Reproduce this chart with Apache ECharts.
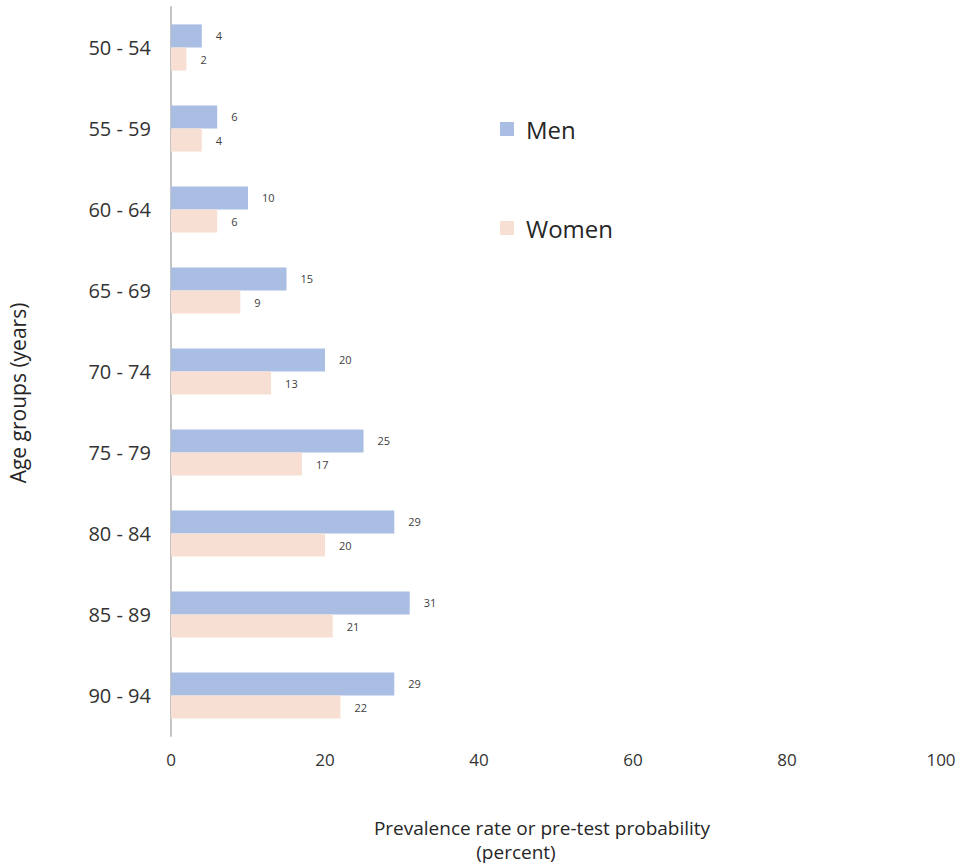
<!DOCTYPE html>
<html>
<head>
<meta charset="utf-8">
<script src="https://cdn.jsdelivr.net/npm/echarts@6/dist/echarts.min.js"></script>
<style>html,body{margin:0;padding:0;background:#fff;}#c{width:964px;height:866px;}</style>
</head>
<body>
<div id="c"></div>
<script>
var categories = ['50 - 54','55 - 59','60 - 64','65 - 69','70 - 74','75 - 79','80 - 84','85 - 89','90 - 94'];
var men = [4, 6, 10, 15, 20, 25, 29, 31, 29];
var women = [2, 4, 6, 9, 13, 17, 20, 21, 22];
var xTicks = [0, 20, 40, 60, 80, 100];
var yTitle = 'Age groups (years)';
var xTitle1 = 'Prevalence rate or pre-test probability';
var xTitle2 = '(percent)';

var font = "'Open Sans', 'Noto Sans', sans-serif";
var chart = echarts.init(document.getElementById('c'), null, {renderer: 'svg'});
var labelOpt = {
  show: true, position: 'right', distance: 14,
  color: '#404040', fontSize: 11, fontFamily: font
};
chart.setOption({
  animation: false,
  backgroundColor: '#fff',
  textStyle: {fontFamily: font},
  legend: {
    orient: 'vertical', left: 500, top: 117, padding: 0,
    itemWidth: 14, itemHeight: 14, itemGap: 75, icon: 'rect',
    textStyle: {fontSize: 24, color: '#262626', fontFamily: font, padding: [0, 0, 0, 7]},
    data: ['Men', 'Women']
  },
  title: [
    {text: xTitle1, left: 537, top: 813, textAlign: 'center',
     textStyle: {fontSize: 19, fontWeight: 'normal', color: '#262626', fontFamily: font}},
    {text: xTitle2, left: 511, top: 837, textAlign: 'center',
     textStyle: {fontSize: 19, fontWeight: 'normal', color: '#262626', fontFamily: font}}
  ],
  graphic: [{
    type: 'text', x: 18, y: 393, rotation: Math.PI / 2,
    style: {text: yTitle, fontSize: 21, fill: '#262626', fontFamily: font,
            textAlign: 'center', textVerticalAlign: 'middle'}
  }],
  grid: {left: 171, right: 23, top: 7, bottom: 130, containLabel: false},
  xAxis: {
    type: 'value', min: xTicks[0], max: xTicks[xTicks.length - 1], interval: 20,
    axisLine: {show: false}, axisTick: {show: false}, splitLine: {show: false},
    axisLabel: {fontSize: 17, color: '#333', margin: 15, fontFamily: font}
  },
  yAxis: {
    type: 'category', data: categories, inverse: true,
    axisLine: {show: true, lineStyle: {color: '#c4c4c4', width: 2}},
    axisTick: {show: false},
    axisLabel: {fontSize: 20, color: '#333', margin: 20, fontFamily: font}
  },
  series: [
    {name: 'Men', type: 'bar', data: men, barGap: '0%', barCategoryGap: '43%',
     itemStyle: {color: '#aabde2'}, label: labelOpt},
    {name: 'Women', type: 'bar', data: women, barGap: '0%', barCategoryGap: '43%',
     itemStyle: {color: '#f7e0d3'}, label: labelOpt}
  ]
});
</script>
</body>
</html>
